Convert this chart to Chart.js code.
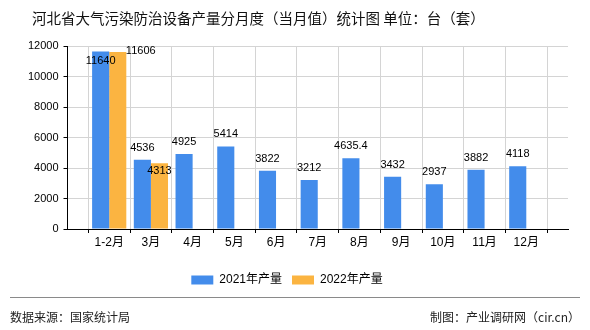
<!DOCTYPE html>
<html>
<head>
<meta charset="utf-8">
<script src="https://cdn.jsdelivr.net/npm/chart.js@4"></script>
<style>
  html, body { margin: 0; padding: 0; background: #fff; }
  #wrap { position: relative; width: 590px; height: 330px; overflow: hidden; }
  #chart { position: absolute; left: 0; top: 0; }
  .titulo { position: absolute; left: 32px; top: 7px; font: 14.5px "Noto Sans CJK SC", sans-serif; color: #111; white-space: pre; }
  .pie { position: absolute; top: 308px; font: 12px "Noto Sans CJK SC", sans-serif; color: #222; }
  .linea { position: absolute; left: 10px; top: 297px; width: 570px; height: 1px; background: #8a8a8a; }
</style>
</head>
<body>
<div id="wrap">
  <canvas id="chart" width="590" height="330"></canvas>
  <div class="titulo">河北省大气污染防治设备产量分月度（当月值）统计图 单位：台（套）</div>
  <div class="linea"></div>
  <div class="pie" style="left:10px">数据来源：国家统计局</div>
  <div class="pie" style="right:10px">制图：产业调研网（cir.cn）</div>
</div>
<script>
// meses y produccion (台/套)
const meses = ['1-2月', '3月', '4月', '5月', '6月', '7月', '8月', '9月', '10月', '11月', '12月'];
const prod2021 = [11640, 4536, 4925, 5414, 3822, 3212, 4635.4, 3432, 2937, 3882, 4118];
const prod2022 = [11606, 4313];
const ejeY = [0, 2000, 4000, 6000, 8000, 10000, 12000];

const azul = '#438CEB';
const naranja = '#FBB441';
const fuente = '"Liberation Sans", "Noto Sans CJK SC", sans-serif';

// desplazamiento de etiquetas que chocan entre si  [dx, dy]
const ajusteEtiqueta = { '0:0': [0, 21], '1:0': [23, 11], '1:1': [0, 20] };

const aPuntos = arr => arr.map((v, i) => ({ x: i, y: v }));

// etiquetas de valor sobre las barras
const etiquetas = {
  id: 'etiquetas',
  afterDatasetsDraw(chart) {
    const ctx = chart.ctx;
    ctx.save();
    ctx.font = '11px ' + fuente;
    ctx.fillStyle = '#000';
    ctx.textAlign = 'center';
    ctx.textBaseline = 'middle';
    chart.data.datasets.forEach((ds, d) => {
      chart.getDatasetMeta(d).data.forEach((bar, i) => {
        const aj = ajusteEtiqueta[d + ':' + i] || [0, 0];
        ctx.fillText(String(ds.data[i].y), bar.x + aj[0], bar.y - 12 + aj[1]);
      });
    });
    ctx.restore();
  }
};

new Chart(document.getElementById('chart'), {
  type: 'bar',
  data: {
    datasets: [
      { label: '2021年产量', data: aPuntos(prod2021), backgroundColor: azul },
      { label: '2022年产量', data: aPuntos(prod2022), backgroundColor: naranja }
    ]
  },
  options: {
    responsive: false,
    animation: false,
    events: [],
    layout: { padding: { left: 6, right: 22, top: 46, bottom: 34 } },
    datasets: { bar: { categoryPercentage: 0.82, barPercentage: 1 } },
    scales: {
      x: {
        type: 'linear',
        min: -1,
        max: 11,
        offset: false,
        afterFit: s => { s.height = 35; },
        border: { color: '#000' },
        grid: { color: '#d4d4d4', tickColor: '#000', tickLength: 4 },
        ticks: {
          stepSize: 1,
          autoSkip: false,
          maxRotation: 0,
          padding: 2,
          color: '#000',
          font: { family: fuente, size: 12 },
          callback: v => meses[v] || ''
        }
      },
      y: {
        min: 0,
        max: 12000,
        afterFit: s => { s.width = 61.5; },
        afterBuildTicks: s => { s.ticks = ejeY.map(v => ({ value: v })); },
        border: { color: '#000' },
        grid: { color: '#d4d4d4', tickColor: '#000', tickLength: 4 },
        ticks: {
          padding: 5,
          color: '#000',
          font: { family: fuente, size: 11 },
          callback: v => String(v)
        }
      }
    },
    plugins: {
      legend: {
        position: 'bottom',
        labels: {
          boxWidth: 22,
          boxHeight: 9,
          padding: 10,
          color: '#000',
          font: { family: fuente, size: 12 }
        }
      },
      tooltip: { enabled: false }
    }
  },
  plugins: [etiquetas]
});
</script>
</body>
</html>
